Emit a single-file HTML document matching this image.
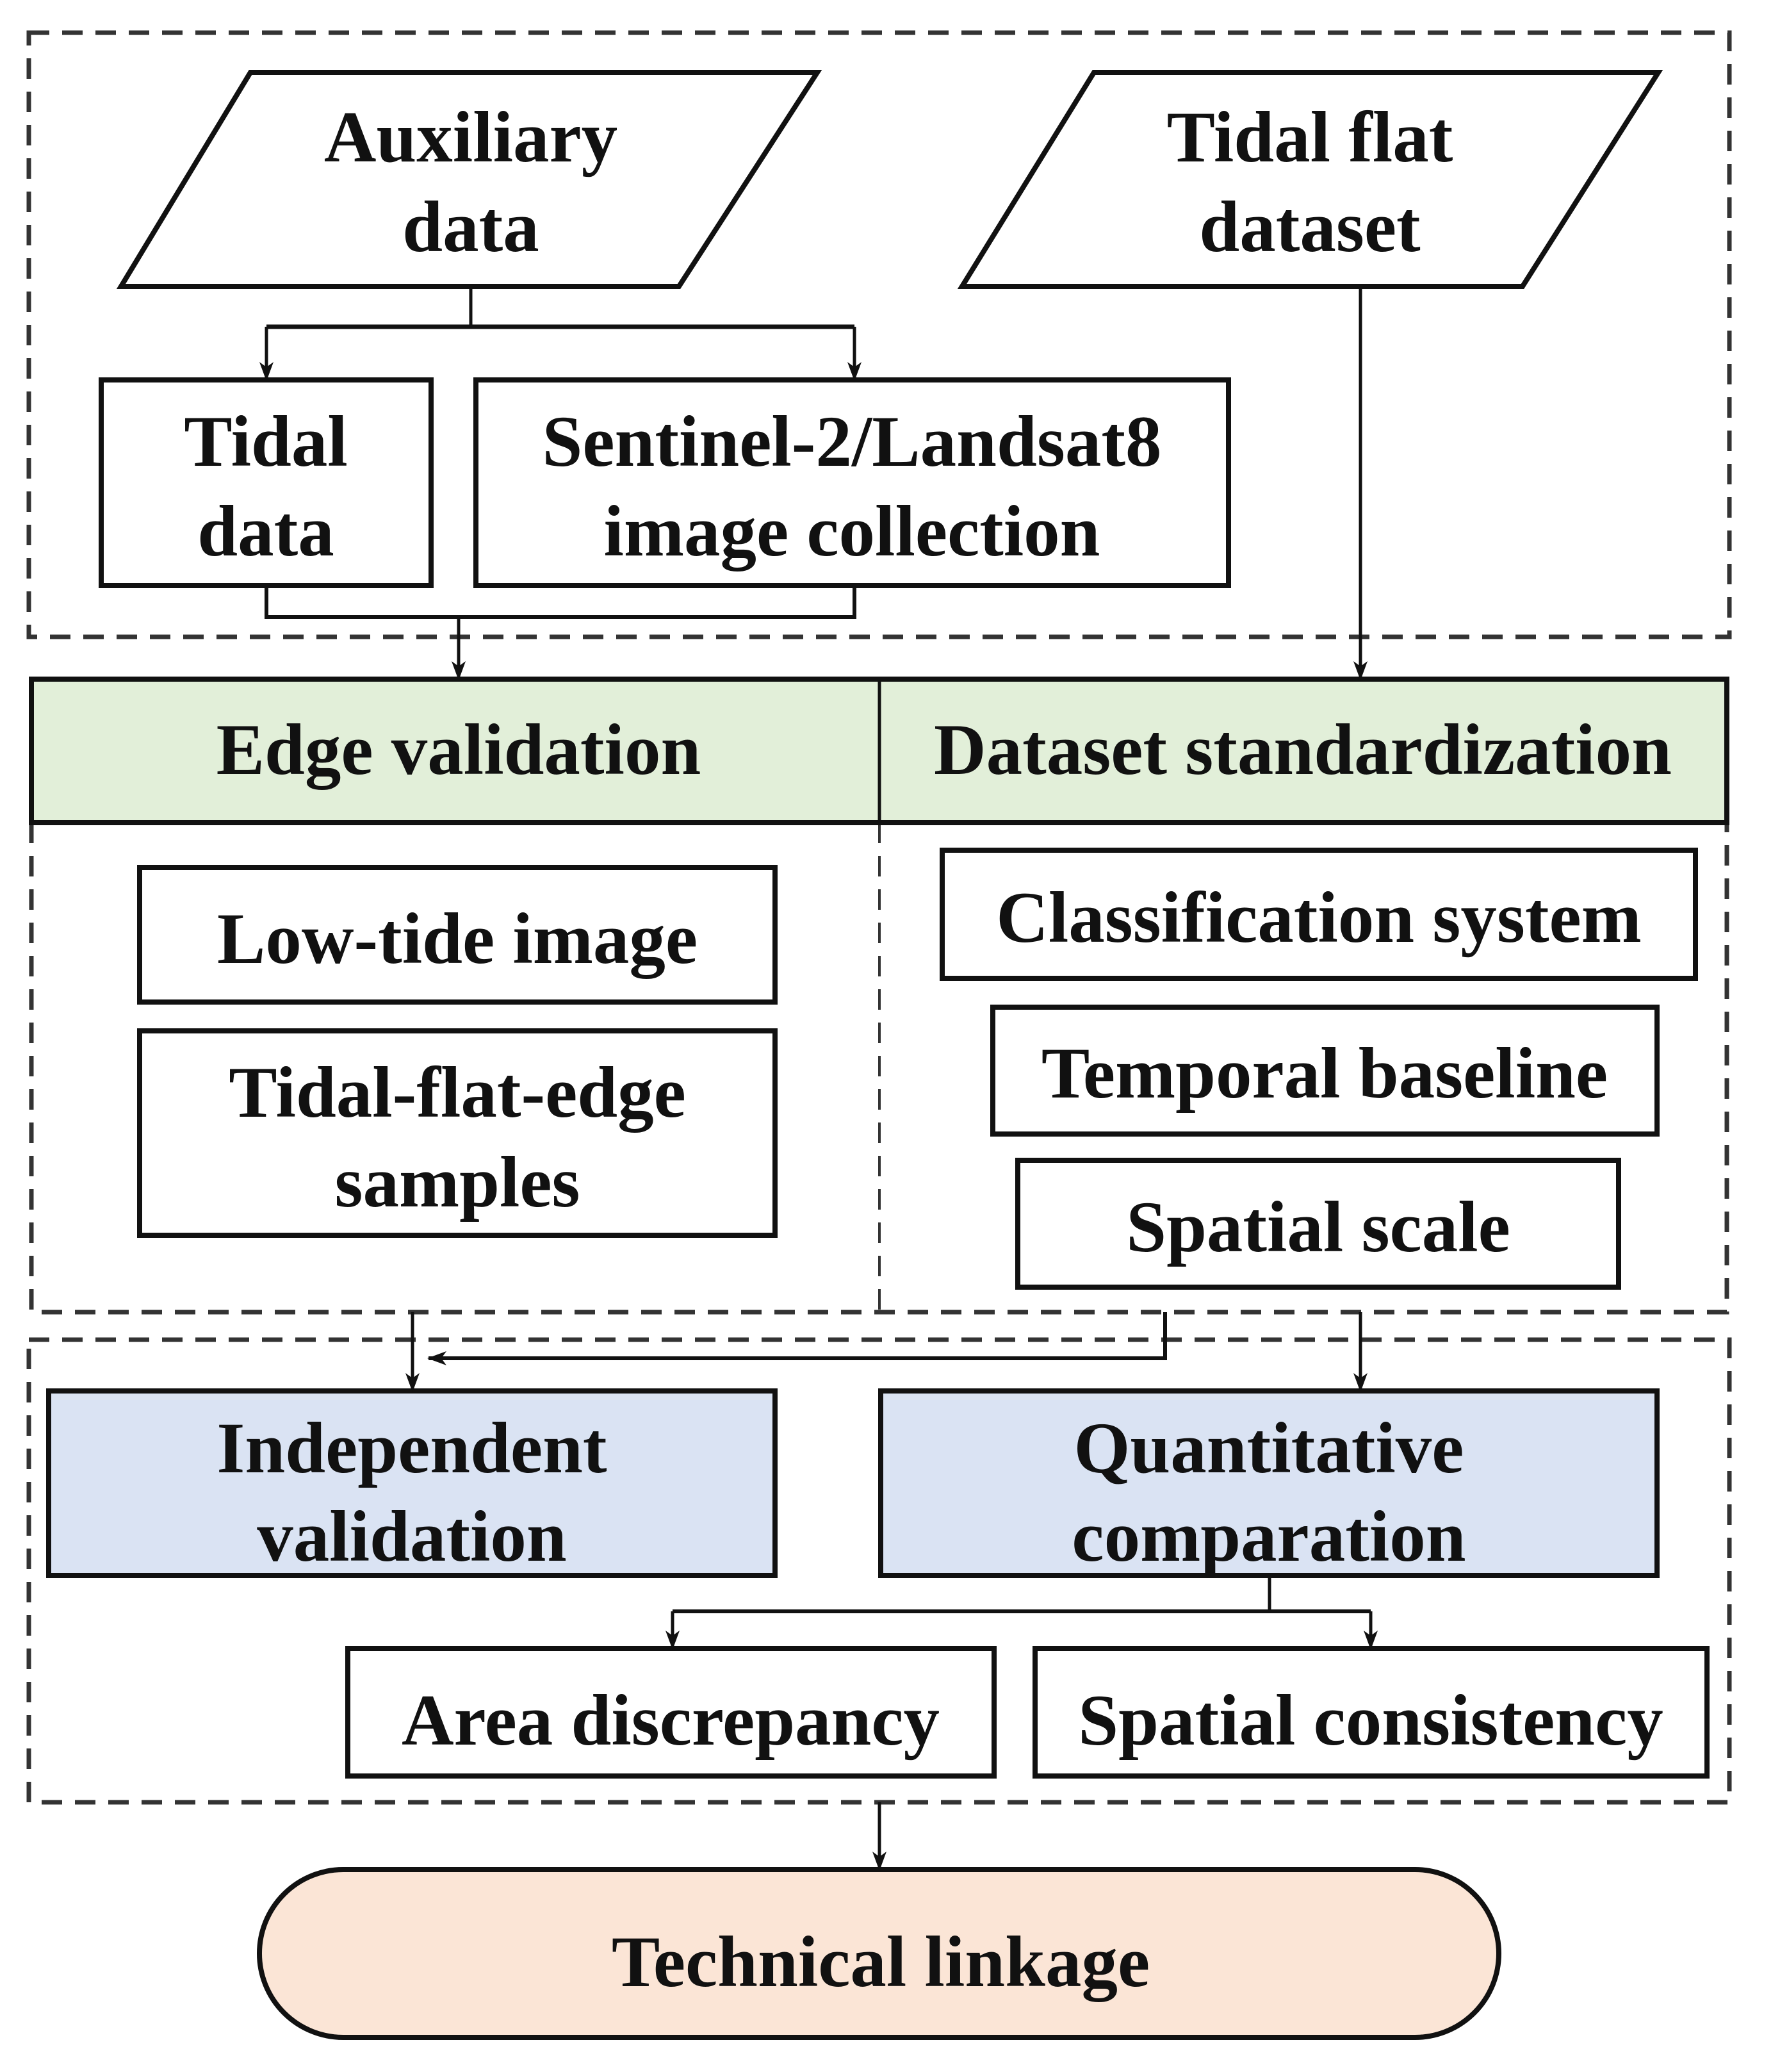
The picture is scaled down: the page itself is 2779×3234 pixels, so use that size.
<!DOCTYPE html>
<html><head><meta charset="utf-8"><style>
html,body{margin:0;padding:0;background:#fff;}
svg{display:block;}
text{font-family:"Liberation Serif",serif;font-weight:bold;font-size:113px;fill:#111;text-anchor:middle;}
</style></head><body>
<svg width="2779" height="3234" viewBox="0 0 2779 3234" xmlns="http://www.w3.org/2000/svg">
<defs>
<marker id="b" markerWidth="30" markerHeight="30" refX="28" refY="15" orient="auto" markerUnits="userSpaceOnUse" viewBox="0 0 30 30"><path d="M0,4 L30,15 L0,26 L8,15 z" fill="#111"/></marker></defs>
<g fill="none" stroke="#333" stroke-width="7" stroke-dasharray="32 20">
<rect x="45" y="51" width="2655" height="943"/>
<path d="M49 1284 V2048 H2696 V1284"/>
<path d="M1373 1284 V2048" stroke-width="4"/>
<rect x="45" y="2091" width="2655" height="722"/>
</g>
<g stroke="#111" stroke-width="8">
<polygon points="391,113 1276,113 1060,447 189,447" fill="#fff"/>
<polygon points="1708,113 2589,113 2377,447 1502,447" fill="#fff"/>
<rect x="158" y="593" width="515" height="321" fill="#fff"/>
<rect x="743" y="593" width="1175" height="321" fill="#fff"/>
<rect x="49" y="1060" width="2647" height="224" fill="#e2efd9"/>
<line x1="1373" y1="1060" x2="1373" y2="1284" stroke-width="5"/>
<rect x="218" y="1354" width="992" height="210" fill="#fff"/>
<rect x="218" y="1609" width="992" height="319" fill="#fff"/>
<rect x="1471" y="1327" width="1176" height="200" fill="#fff"/>
<rect x="1550" y="1572" width="1037" height="198" fill="#fff"/>
<rect x="1589" y="1811" width="938" height="198" fill="#fff"/>
<rect x="76" y="2171" width="1134" height="288" fill="#dae3f3"/>
<rect x="1375" y="2171" width="1212" height="288" fill="#dae3f3"/>
<rect x="543" y="2573" width="1009" height="199" fill="#fff"/>
<rect x="1616" y="2573" width="1049" height="199" fill="#fff"/>
<rect x="405" y="2918" width="1935" height="262" rx="131" ry="131" fill="#fbe5d6"/>
</g>
<g fill="none" stroke="#111" stroke-width="5">
<path d="M735 447 V510"/><path d="M416 510 H1334" stroke-width="7"/>
<path d="M416 510 V593" marker-end="url(#b)"/><path d="M1334 510 V593" marker-end="url(#b)"/>
<path d="M416 914 V963 H1334 V914" stroke-width="6"/>
<path d="M716 963 V1060" marker-end="url(#b)"/>
<path d="M2124 447 V1060" marker-end="url(#b)"/>
<path d="M644 2048 V2171" marker-end="url(#b)"/>
<path d="M1819 2048 V2120 H669" stroke-width="6" marker-end="url(#b)"/>
<path d="M2124 2048 V2171" marker-end="url(#b)"/>
<path d="M1982 2459 V2515"/><path d="M1050 2515 H2140" stroke-width="6"/>
<path d="M1050 2515 V2573" marker-end="url(#b)"/><path d="M2140 2515 V2573" marker-end="url(#b)"/>
<path d="M1373 2813 V2918" marker-end="url(#b)"/>
</g>
<text x="735" y="252">Auxiliary</text><text x="735" y="392">data</text>
<text x="2045" y="252">Tidal flat</text><text x="2045" y="392">dataset</text>
<text x="415" y="727">Tidal</text><text x="415" y="867">data</text>
<text x="1330" y="727">Sentinel-2/Landsat8</text><text x="1330" y="867">image collection</text>
<text x="716" y="1208">Edge validation</text>
<text x="2034" y="1208">Dataset standardization</text>
<text x="714" y="1503">Low-tide image</text>
<text x="714" y="1743">Tidal-flat-edge</text><text x="714" y="1883">samples</text>
<text x="2059" y="1470">Classification system</text>
<text x="2068" y="1713">Temporal baseline</text>
<text x="2058" y="1953">Spatial scale</text>
<text x="643" y="2298">Independent</text><text x="643" y="2436">validation</text>
<text x="1981" y="2298">Quantitative</text><text x="1981" y="2436">comparation</text>
<text x="1047" y="2723">Area discrepancy</text>
<text x="2140" y="2723">Spatial consistency</text>
<text x="1375" y="3100">Technical linkage</text>
</svg>
</body></html>
